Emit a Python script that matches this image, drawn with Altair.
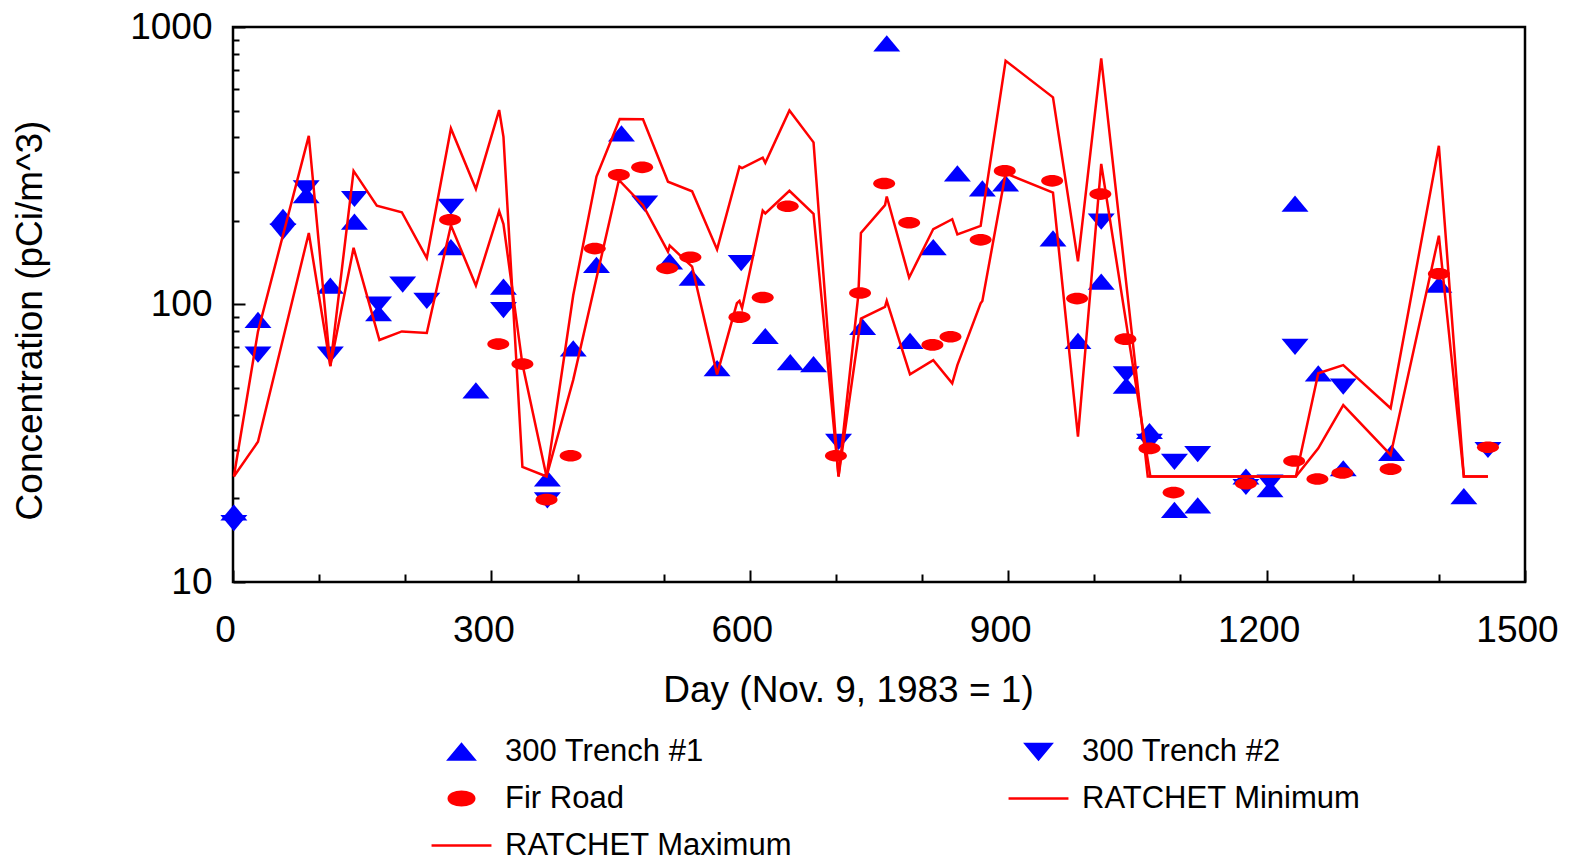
import altair as alt
import pandas as pd

# ---------------- data ----------------
t1_day = [1, 29, 58, 85, 113, 141, 169, 253, 282, 314, 365, 395, 422, 451, 507, 533, 562, 618, 647, 674,
          731, 759, 786, 813, 841, 870, 897, 952, 981, 1008, 1037, 1064, 1093, 1120, 1176, 1204, 1233, 1260,
          1289, 1345, 1400, 1429]
t1_val = [17.8, 88, 207, 248, 117, 199, 93, 161, 49, 116, 23.6, 69.5, 139, 414, 143, 125, 59, 77, 62, 61,
          83, 873, 74, 161, 297, 262, 273, 173, 74, 121, 51, 35, 18.2, 18.9, 24, 21.6, 231, 56.5,
          25.7, 29.2, 118, 20.4]

t2_day = [1, 29, 58, 85, 113, 141, 169, 197, 225, 253, 314, 365, 478, 590, 703, 1008, 1037, 1064, 1093,
          1120, 1176, 1204, 1233, 1289, 1457]
t2_val = [16.3, 66, 183, 262, 66, 240, 100, 118, 103, 225, 95.5, 19.7, 231, 141, 32, 199, 56, 32, 27.1,
          28.9, 22, 22.8, 70.4, 50.6, 29.9]

fir_day = [252, 308, 336, 364, 392, 420, 448, 475, 504, 531, 588, 615, 644, 700, 728, 756, 785, 812, 833,
           868, 896, 951, 980, 1007, 1036, 1064, 1092, 1176, 1232, 1259, 1288, 1344, 1400, 1457]
fir_val = [202, 72, 61, 19.8, 28.5, 159, 293, 312, 135, 148, 90, 106, 226, 28.5, 110, 273, 197, 71.5, 76.5,
           171, 303, 279, 105, 250, 75, 30.3, 21, 22.6, 27.3, 23.5, 24.7, 25.5, 129, 30.6]

max_day = [1, 29, 88, 113, 140, 167, 196, 225, 253, 282, 309, 314, 336, 364, 395, 422, 449, 476, 505, 533,
           562, 588, 591, 615, 618, 646, 674, 703, 726, 729, 757, 759, 785, 813, 835, 841, 868, 897, 952, 981,
           1008, 1062, 1234, 1260, 1289, 1344, 1400, 1429, 1457]
max_val = [24, 80, 405, 60, 303, 227, 215, 147, 431, 261, 502, 402, 26, 24, 108, 289, 466, 465, 277, 256,
           158, 314, 310, 338, 324, 500, 384, 24, 108, 181, 228, 245, 125, 187, 203, 179, 192, 756, 558, 143,
           771, 24, 24, 56.5, 60.5, 42.3, 373, 24, 24]

min_day = [1, 29, 88, 113, 140, 170, 196, 225, 253, 282, 309, 314, 336, 364, 395, 448, 476, 505, 507, 533,
           562, 585, 588, 591, 615, 618, 646, 674, 703, 729, 757, 759, 786, 813, 835, 841, 868, 870, 897, 952,
           981, 1008, 1065, 1234, 1260, 1289, 1344, 1400, 1429, 1457]
min_val = [24, 32, 181, 60, 160, 74.5, 80, 79, 193, 117, 217, 195, 61, 24, 53.5, 281, 228, 155, 163, 137,
           56, 101, 103, 97, 218, 213, 257, 212, 24, 89, 98, 103, 56, 63, 52, 60.5, 101, 103, 297, 253,
           33.4, 321, 24, 24, 30.3, 43.4, 28.7, 177, 24, 24]

# legend order (filled column by column: left column first, then right column)
series_names = ["300 Trench #1", "Fir Road", "RATCHET Maximum", "300 Trench #2", "RATCHET Minimum"]
x_label_values = [0, 300, 600, 900, 1200, 1500]
x_tick_values = list(range(0, 1501, 100))
y_label_values = [10, 100, 1000]
y_tick_values = [10, 20, 30, 40, 50, 60, 70, 80, 90, 100, 200, 300, 400, 500, 600, 700, 800, 900, 1000]

# ---------------- styles ----------------
FONT = "Liberation Sans"
BLUE = "#0000ff"
RED = "#ff0000"
W, H = 1292, 555
UP = "M-1,0.6L1,0.6L0,-0.6Z"
DOWN = "M-1,-0.6L1,-0.6L0,0.6Z"
ELLIPSE = "M-1,0A1,0.53,0,1,1,1,0A1,0.53,0,1,1,-1,0Z"
LEG_LINE = "M-2.35,0L2.35,0"

t1_df = pd.DataFrame({"day": t1_day, "value": t1_val})
t2_df = pd.DataFrame({"day": t2_day, "value": t2_val})
fir_df = pd.DataFrame({"day": fir_day, "value": fir_val})
lines_df = pd.concat([
    pd.DataFrame({"day": max_day, "value": max_val, "series": "RATCHET Maximum"}),
    pd.DataFrame({"day": min_day, "value": min_val, "series": "RATCHET Minimum"}),
])
legend_df = pd.DataFrame({"series": series_names, "day": [0] * 5, "value": [10] * 5})

xscale = alt.Scale(domain=[0, 1500], nice=False, zero=False)
yscale = alt.Scale(type="log", domain=[10, 1000], nice=False)

# main axes: labels + titles, no ticks
x_main = alt.Axis(orient="bottom", values=x_label_values, format="d", ticks=False, domain=False, grid=False,
                  labelFontSize=37, labelPadding=30, labelOffset=-8, labelFlush=False, labelColor="black",
                  labelFont=FONT, labelOverlap=False,
                  title="Day (Nov. 9, 1983 = 1)", titleFontSize=37, titleFontWeight="normal",
                  titleFont=FONT, titleColor="black", titleX=615, titleY=119, titleBaseline="alphabetic",
                  titleAlign="center")
y_main = alt.Axis(orient="left", values=y_label_values, format="d", ticks=False, domain=False, grid=False,
                  labelFontSize=37, labelPadding=21, labelColor="black", labelFont=FONT, labelFlush=False,
                  labelOverlap=False,
                  title="Concentration (pCi/m^3)", titleFontSize=37, titleFontWeight="normal",
                  titleFont=FONT, titleColor="black", titleX=-192, titleY=293, titleBaseline="alphabetic",
                  titleAlign="center", titleAngle=270)
# inward tick axes
x_ticks = alt.Axis(orient="top", offset=-H, values=x_tick_values, labels=False, domain=False, grid=False,
                   title=None, tickColor="black", tickWidth=2,
                   tickSize={"condition": {"test": "datum.value % 300 === 0", "value": 12}, "value": 8})
y_ticks = alt.Axis(orient="right", offset=-W, values=y_tick_values, labels=False, domain=False, grid=False,
                   title=None, tickColor="black", tickWidth=2,
                   tickSize={"condition": {"test": "datum.value === 10 || datum.value === 100 || datum.value === 1000",
                                           "value": 12}, "value": 6})

t1_layer = alt.Chart(t1_df).mark_point(shape=UP, filled=True, size=729, color=BLUE, opacity=1, strokeWidth=0).encode(
    x=alt.X("day:Q", scale=xscale, axis=x_ticks),
    y=alt.Y("value:Q", scale=yscale, axis=y_ticks),
)
t2_layer = alt.Chart(t2_df).mark_point(shape=DOWN, filled=True, size=729, color=BLUE, opacity=1, strokeWidth=0).encode(
    x=alt.X("day:Q", scale=xscale, axis=None),
    y=alt.Y("value:Q", scale=yscale, axis=None),
)
fir_layer = alt.Chart(fir_df).mark_point(shape=ELLIPSE, filled=True, size=484, color=RED, opacity=1, strokeWidth=0).encode(
    x=alt.X("day:Q", scale=xscale, axis=None),
    y=alt.Y("value:Q", scale=yscale, axis=None),
)
line_layer = alt.Chart(lines_df).mark_line(color=RED, strokeWidth=2.5).encode(
    x=alt.X("day:Q", scale=xscale, axis=x_main),
    y=alt.Y("value:Q", scale=yscale, axis=y_main),
    detail="series:N",
)

leg_colors = [BLUE, RED, RED, BLUE, RED]
leg_shapes = [UP, ELLIPSE, LEG_LINE, DOWN, LEG_LINE]
leg = alt.Legend(title=None, orient="none", legendX=213, legendY=709, columns=2, columnPadding=210,
                 rowPadding=15, labelFontSize=31, labelFont=FONT, labelColor="black", labelLimit=600,
                 labelOffset=28, symbolSize=650, symbolStrokeWidth=2.5, symbolOpacity=1)
legend_layer = alt.Chart(legend_df).transform_filter("datum.day > 99999").mark_point(filled=True, opacity=1).encode(
    color=alt.Color("series:N", scale=alt.Scale(domain=series_names, range=leg_colors), legend=leg),
    stroke=alt.Stroke("series:N", scale=alt.Scale(domain=series_names, range=leg_colors), legend=leg),
    shape=alt.Shape("series:N", scale=alt.Scale(domain=series_names, range=leg_shapes), legend=leg),
)

chart = alt.layer(t1_layer, t2_layer, fir_layer, line_layer, legend_layer).resolve_axis(
    x="independent", y="independent"
).properties(
    width=W, height=H,
    padding={"left": 233, "top": 27, "right": 49, "bottom": 279},
    autosize=alt.AutoSizeParams(type="none"),
    background="white",
).configure(
    font=FONT,
    view=alt.ViewConfig(stroke="black", strokeWidth=2.5),
)

chart.save("out.html", embed_options={"renderer": "svg", "actions": False})
